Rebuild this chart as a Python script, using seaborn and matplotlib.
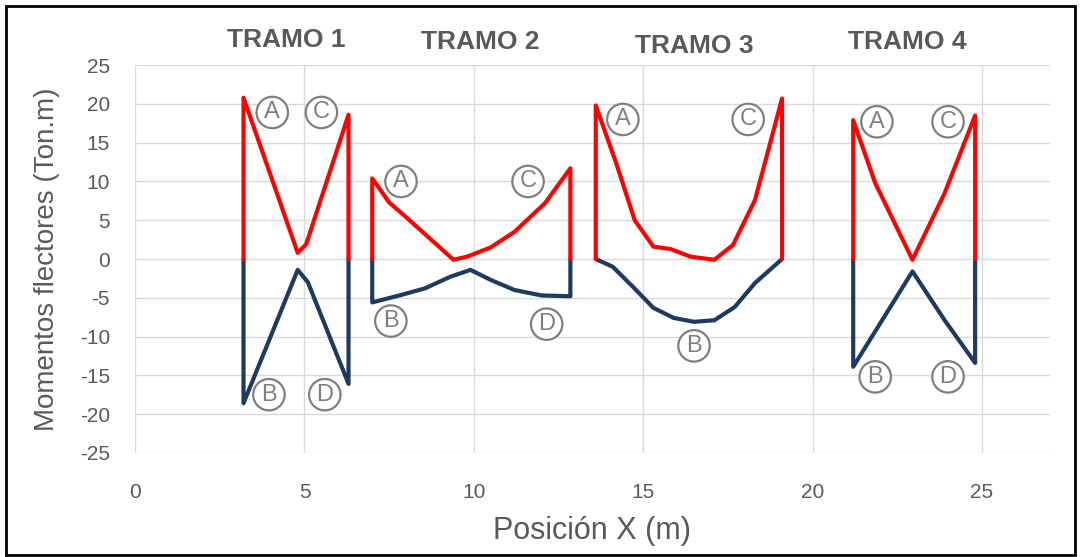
import matplotlib
matplotlib.use("Agg")
import matplotlib.pyplot as plt
import seaborn as sns
from matplotlib.patches import Rectangle

# Momentos positivos (rojo) y negativos (azul) por tramo
t1_x_pos = [3.2, 3.2, 4.8, 5.05, 6.3, 6.3]
t1_y_pos = [0, 20.8, 0.8, 1.9, 18.6, 0]
t1_x_neg = [3.2, 3.2, 4.8, 5.1, 6.3, 6.3]
t1_y_neg = [0, -18.6, -1.4, -3.0, -16.1, 0]

t2_x_pos = [7.0, 7.0, 7.5, 8.0, 9.4, 9.8, 10.5, 11.2, 12.1, 12.85, 12.85]
t2_y_pos = [0, 10.4, 7.3, 5.4, -0.1, 0.3, 1.5, 3.5, 7.2, 11.7, 0]
t2_x_neg = [7.0, 7.0, 7.8, 8.55, 9.3, 9.9, 10.5, 11.2, 12.0, 12.85, 12.85]
t2_y_neg = [0, -5.6, -4.7, -3.8, -2.3, -1.4, -2.7, -4.0, -4.7, -4.8, 0]

t3_x_pos = [13.6, 13.6, 14.2, 14.75, 15.3, 15.8, 16.4, 17.1, 17.65, 18.3, 19.1, 19.1]
t3_y_pos = [0, 19.8, 12.4, 5.0, 1.6, 1.3, 0.3, -0.1, 1.8, 7.6, 20.7, 0]
t3_x_neg = [13.6, 14.1, 14.7, 15.3, 15.9, 16.5, 17.1, 17.7, 18.3, 19.1]
t3_y_neg = [0, -1.0, -3.6, -6.3, -7.6, -8.1, -7.9, -6.2, -3.1, 0]

t4_x_pos = [21.2, 21.2, 21.85, 22.95, 23.9, 24.8, 24.8]
t4_y_pos = [0, 17.9, 9.8, -0.1, 8.5, 18.5, 0]
t4_x_neg = [21.2, 21.2, 22.95, 23.9, 24.8, 24.8]
t4_y_neg = [0, -13.9, -1.6, -7.9, -13.4, 0]

tramos = ["TRAMO 1", "TRAMO 2", "TRAMO 3", "TRAMO 4"]
tramo_x = [4.45, 10.2, 16.5, 22.8]
tramo_y = [28.2, 28.0, 27.5, 28.0]

etiquetas = ["A", "C", "B", "D", "A", "C", "B", "D", "A", "C", "B", "A", "C", "B", "D"]
etiq_x = [4.05, 5.5, 3.95, 5.6, 7.85, 11.6, 7.55, 12.15, 14.4, 18.1, 16.5, 21.9, 24.0, 21.85, 24.0]
etiq_y = [18.9, 18.9, -17.5, -17.5, 10.0, 10.0, -8.0, -8.4, 18.0, 18.0, -11.2, 17.7, 17.7, -15.2, -15.2]

sns.set_style("white")
plt.rcParams["font.family"] = ["Liberation Sans", "DejaVu Sans"]
plt.rcParams["axes.unicode_minus"] = False

fig = plt.figure(figsize=(10.81, 5.57), dpi=100)
ax = fig.add_axes([0.125, 0.187, 0.846, 0.696])

rojo = "#FF0000"
azul = "#1F3A60"
positivos = [(t1_x_pos, t1_y_pos), (t2_x_pos, t2_y_pos), (t3_x_pos, t3_y_pos), (t4_x_pos, t4_y_pos)]
negativos = [(t1_x_neg, t1_y_neg), (t2_x_neg, t2_y_neg), (t3_x_neg, t3_y_neg), (t4_x_neg, t4_y_neg)]
for xs, ys in negativos:
    sns.lineplot(x=xs, y=ys, sort=False, estimator=None, color=azul, linewidth=3, ax=ax)
for xs, ys in positivos:
    sns.lineplot(x=xs, y=ys, sort=False, estimator=None, color=rojo, linewidth=3, ax=ax)

# Letras en circulo
for t, x, y in zip(etiquetas, etiq_x, etiq_y):
    ax.text(x, y, t, ha="center", va="center", fontsize=17, color="#7F7F7F",
            bbox=dict(boxstyle="circle,pad=0.2", fc="white", ec="#7F7F7F", lw=1.6))

for t, x, y in zip(tramos, tramo_x, tramo_y):
    ax.text(x, y, t, ha="center", va="center", fontsize=19, fontweight="bold",
            color="#595959", clip_on=False)

ax.set_xlim(0, 27)
ax.set_ylim(-25, 25)
ax.set_xticks(range(0, 26, 5))
ax.set_yticks(range(-25, 26, 5))
ax.grid(True, color="#D9D9D9", linewidth=1)
for s in ax.spines.values():
    s.set_visible(False)
ax.tick_params(axis="x", length=0, pad=22, labelsize=15, labelcolor="#595959")
ax.tick_params(axis="y", length=0, pad=18, labelsize=15, labelcolor="#595959")
ax.set_xlabel("Posición X (m)", fontsize=22, color="#595959", labelpad=10)
ax.set_ylabel("Momentos flectores (Ton.m)", fontsize=20, color="#595959", labelpad=14)

fig.patches.append(Rectangle((0.006, 0.004), 0.988, 0.985, transform=fig.transFigure,
                             fill=False, ec="black", lw=2))

plt.savefig("out.png", dpi=100)
